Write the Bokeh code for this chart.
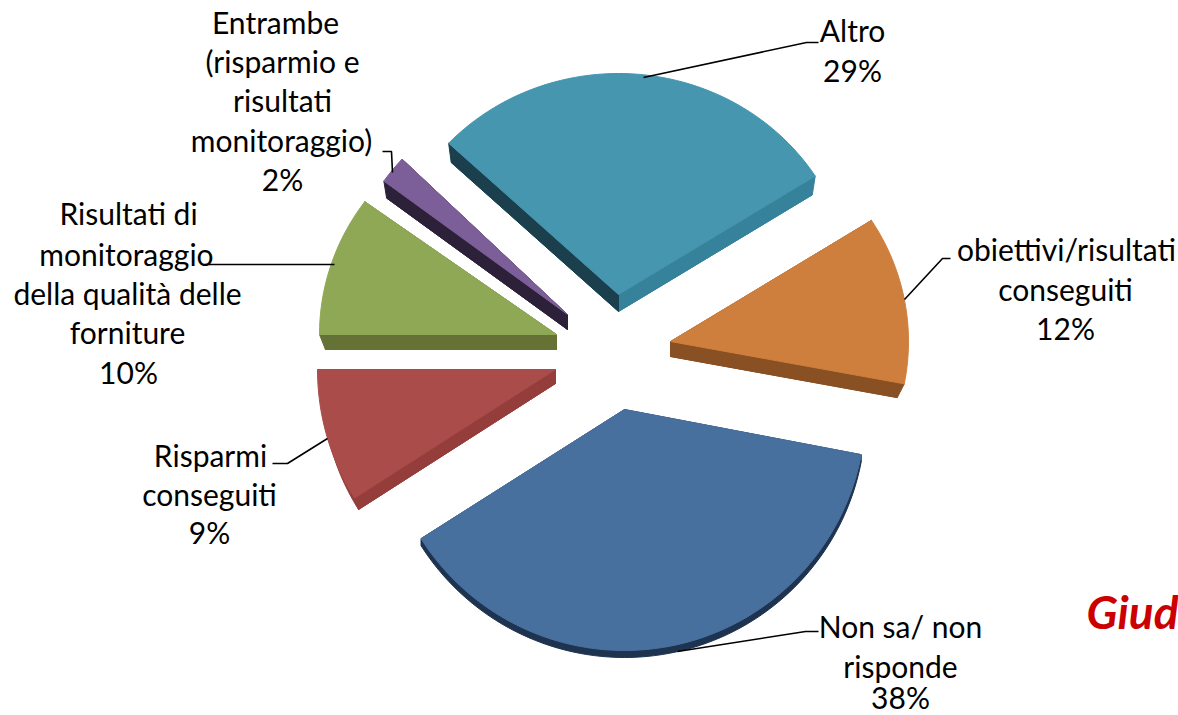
import math
from bokeh.plotting import figure
from bokeh.models import ColumnDataSource
from bokeh.core.properties import value
from bokeh.embed import file_html
from bokeh.resources import INLINE

# ---- data
categories = ["Altro", "Entrambe (risparmio e risultati monitoraggio)",
              "Risultati di monitoraggio della qualità delle forniture",
              "Risparmi conseguiti", "Non sa/ non risponde",
              "obiettivi/risultati conseguiti"]
percent = [29, 2, 10, 9, 38, 12]

# ---- pie layout (pixels; y grows downward)
START_ANGLE = 32.4
CENTER = (620, 352)
explode_x = [-2, -53, -64, -65, 4, 50]
explode_y = [-58, -38, -18, 17, 57, -11]
radius_x = [233, 227, 237, 238, 241, 238]
radius_y = [221, 227, 226, 240, 241, 226]
depth = [17, 15, 15, 14, 7, 15]
taper = [0.985, 0.985, 0.975, 0.98, 1.0, 0.97]

top_color = ["#4596AE", "#7C5F98", "#8FA856", "#A94C4A", "#48709F", "#CF7F3D"]
rim_color = ["#35829A", "#2C2138", "#647235", "#953D3B", "#1E3350", "#895023"]
start_wall = ["#35829A", "#2C2138", "#647235", "#953D3B", "#1E3350", "#895023"]
end_wall = ["#1B3F4C", "#2C2138", "#647235", "#953D3B", "#1E3350", "#895023"]

# ---- text lines
label_lines = ["Altro", "29%",
               "obiettivi/risultati", "conseguiti", "12%",
               "Non sa/ non", "risponde", "38%",
               "Risparmi", "conseguiti", "9%",
               "Risultati di", "monitoraggio", "della qualità delle", "forniture", "10%",
               "Entrambe", "(risparmio e", "risultati", "monitoraggio)", "2%"]
label_x = [852, 852,
           1066, 1065, 1065,
           900, 900, 900,
           210, 209, 209,
           128, 126, 127, 127, 128,
           275, 282, 282, 281, 282]
label_y = [29, 69,
           248, 288, 327,
           625, 665, 696,
           454, 493, 531,
           212, 253, 292, 331, 371,
           21, 60, 99, 139, 178]

# ---- leader lines
leader_x = [[643, 806, 818], [904, 942, 950], [677, 805, 818],
            [334, 205], [327, 287, 272], [392, 391, 382]]
leader_y = [[77, 42, 42], [299, 258, 258], [651, 631, 631],
            [264, 264], [438, 463, 463], [172, 151, 151]]

WIDTH, HEIGHT = 1178, 715
p = figure(width=WIDTH, height=HEIGHT, output_backend="svg", toolbar_location=None,
           x_range=(0, WIDTH), y_range=(HEIGHT, 0), min_border=0,
           outline_line_color=None, background_fill_color="white")
p.axis.visible = False
p.grid.visible = False

top_xs, top_ys, low_xs, low_ys, low_c = [], [], [], [], []
q_xs, q_ys, q_c = [], [], []
angle = START_ANGLE
for i, v in enumerate(percent):
    a0, a1 = angle, angle + v * 3.6
    angle = a1
    ax, ay = CENTER[0] + explode_x[i], CENTER[1] + explode_y[i]
    n = max(4, int(v * 2))
    arc = [a0 + (a1 - a0) * k / n for k in range(n + 1)]
    px = [ax + radius_x[i] * math.cos(math.radians(t)) for t in arc]
    py = [ay - radius_y[i] * math.sin(math.radians(t)) for t in arc]
    top_xs.append([ax] + px)
    top_ys.append([ay] + py)
    d, k = depth[i], taper[i]
    lx = [ax + (x - ax) * k for x in px]
    ly = [ay + d + (y - ay) * k for y in py]
    low_xs.append([ax] + lx)
    low_ys.append([ay + d] + ly)
    low_c.append(rim_color[i])
    for e, col in ((0, start_wall[i]), (-1, end_wall[i])):
        q_xs.append([ax, px[e], lx[e], ax])
        q_ys.append([ay, py[e], ly[e], ay + d])
        q_c.append(col)

p.patches(low_xs, low_ys, fill_color=low_c, line_color=low_c, line_width=1)
p.patches(q_xs, q_ys, fill_color=q_c, line_color=q_c, line_width=1)
p.patches(top_xs, top_ys, fill_color=top_color, line_color=top_color, line_width=1)

p.multi_line(leader_x, leader_y, line_color="black", line_width=1.6)

src = ColumnDataSource(dict(x=label_x, y=label_y, text=label_lines))
p.text("x", "y", text="text", source=src, text_align="center", text_baseline="middle",
       text_font=value("Lato"), text_font_size="30px", text_color="black")

p.text([1086], [611], text=["Giud"], text_align="left", text_baseline="middle",
       text_font=value("Lato"), text_font_size="46px", text_font_style="bold italic",
       text_color="#CC0000")

open("out.html", "w").write(file_html(p, INLINE))
